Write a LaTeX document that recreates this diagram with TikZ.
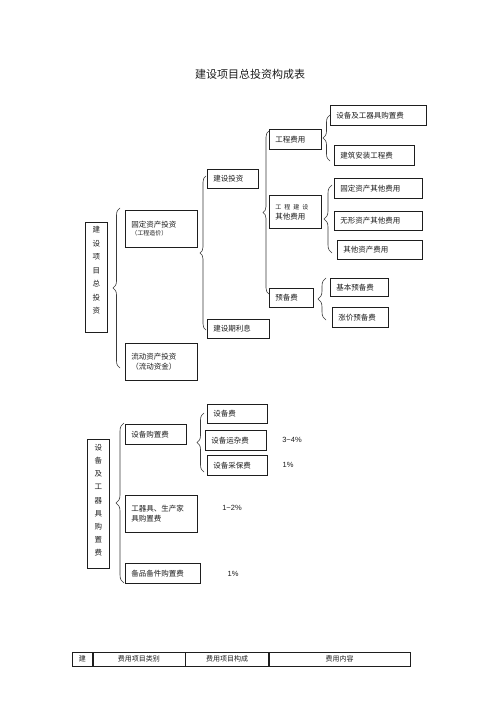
\documentclass[tikz,border=0pt]{standalone}
\usepackage{fontspec}
\setmainfont{Noto Sans CJK SC}
\newfontfamily\latinsans{Liberation Sans}
\usetikzlibrary{calc,positioning,decorations.pathreplacing}
\definecolor{ink}{HTML}{1E1E1E}
\definecolor{rule}{HTML}{3A3A3A}

\begin{document}
\begin{tikzpicture}[x=1pt,y=-1pt,
  box/.style={draw=ink,line width=0.6pt,anchor=north west,align=left,inner xsep=6pt,inner ysep=1pt,text=ink,font=\fontsize{7.5}{10}\selectfont},
  note/.style={font=\fontsize{6}{8}\selectfont},
  vtext/.style={anchor=north,align=center,inner sep=0pt,text=ink,font=\fontsize{7.5}{13.5}\selectfont},
  brace/.style={decorate,decoration={brace,amplitude=7pt},draw=rule,line width=0.6pt},
  pct/.style={text=ink,font=\latinsans\fontsize{7.5}{9}\selectfont},
  cell/.style={draw=ink,line width=0.6pt,anchor=west,minimum height=14,inner sep=0pt,text=ink,font=\fontsize{7}{9}\selectfont}]
  \fill[white] (0,0) rectangle (500,708);
  \useasboundingbox (0,0) rectangle (500,708);
  \node[text=ink,font=\fontsize{11}{13}\selectfont] (title) at (250,74) {建设项目总投资构成表};

  % total investment
  \node[box,minimum width=22,minimum height=110,inner xsep=0pt] (zxm) at (85,222) {};
  \node[vtext] (zxmtext) at ($(zxm.north)+(0,4)$) {建\\设\\项\\目\\总\\投\\资};
  \node[box,text width=60,minimum height=37] (gdzc) at (125,210) {固定资产投资\\[-2pt]{\fontsize{6}{8}\selectfont（工程造价）}};
  \node[box,text width=60,minimum height=37] (ldzc) at (125,343) {流动资产投资\\（流动资金）};
  \node[box,text width=39,minimum height=19] (jstz) at (207,169) {建设投资};
  \node[box,text width=50,minimum height=19] (jsqlx) at (207,319) {建设期利息};
  \node[box,text width=40,minimum height=20] (gcfy) at (269,129) {工程费用};
  \node[box,text width=40,minimum height=33] (gcqt) at (269,195) {{\fontsize{6}{8}\selectfont 工\enspace 程\enspace 建\enspace 设}\\其他费用};
  \node[box,text width=32,minimum height=19] (ybf) at (269,288) {预备费};
  \node[box,text width=84,minimum height=20] (sbgj) at (330,105) {设备及工器具购置费};
  \node[box,text width=68,minimum height=20] (jzaz) at (334,145) {建筑安装工程费};
  \node[box,text width=76,minimum height=20] (gdqt) at (334,178) {固定资产其他费用};
  \node[box,text width=76,minimum height=19] (wxzc) at (334,211) {无形资产其他费用};
  \node[box,text width=73,minimum height=19] (qtzc) at (337,240) {其他资产费用};
  \node[box,text width=46,minimum height=18] (jbyb) at (330,278) {基本预备费};
  \node[box,text width=44,minimum height=20] (zjyb) at (332,307) {涨价预备费};

  \coordinate (b1t) at (120,208); \coordinate (b1b) at (120,368);
  \coordinate (b2t) at (206,176); \coordinate (b2b) at (206,330);
  \coordinate (b3t) at (269,131); \coordinate (b3b) at (269,294);
  \coordinate (b4t) at (330,115); \coordinate (b4b) at (330,161);
  \coordinate (b5t) at (332,185); \coordinate (b5b) at (332,253);
  \coordinate (b6t) at (326,278); \coordinate (b6b) at (326,320);
  \draw[brace] (b1b) -- (b1t);
  \draw[brace,decoration={amplitude=6pt}] (b2b) -- (b2t);
  \draw[brace,decoration={amplitude=6pt}] (b3b) -- (b3t);
  \draw[brace] (b4b) -- (b4t);
  \draw[brace,decoration={amplitude=8pt}] (b5b) -- (b5t);
  \draw[brace,decoration={amplitude=8pt}] (b6b) -- (b6t);

  % equipment purchase
  \node[box,minimum width=22,minimum height=129,inner xsep=0pt] (sbz) at (87,439) {};
  \node[vtext,font=\fontsize{7.5}{13.2}\selectfont] (sbztext) at ($(sbz.north)+(0,5)$) {设\\备\\及\\工\\器\\具\\购\\置\\费};
  \node[box,text width=49,minimum height=20] (sbgz) at (125,424) {设备购置费};
  \node[box,text width=60,minimum height=37] (gqj) at (125,495) {工器具、生产家\\具购置费};
  \node[box,text width=63,minimum height=20] (bpbj) at (125,563) {备品备件购置费};
  \node[box,text width=48,minimum height=19] (sbf) at (207,404) {设备费};
  \node[box,text width=49,minimum height=20] (sbyz) at (205,430) {设备运杂费};
  \node[box,text width=48,minimum height=20] (sbcb) at (207,455) {设备采保费};
  \node[pct] (pyz) at (292,440) {3\textasciitilde4\%};
  \node[pct] (pcb) at (288,465) {1\%};
  \node[pct] (pgqj) at (232,508) {1\textasciitilde2\%};
  \node[pct] (pbp) at (233,574) {1\%};

  \coordinate (b7t) at (124,423); \coordinate (b7b) at (124,583);
  \coordinate (b8t) at (204,413); \coordinate (b8b) at (204,472);
  \draw[brace,decoration={amplitude=8pt}] (b7b) -- (b7t);
  \draw[brace] (b8b) -- (b8t);

  % table header
  \node[cell,minimum width=20] (th1) at (72,659) {建};
  \node[cell,minimum width=92] (th2) at (th1.east) {费用项目类别};
  \node[cell,minimum width=83] (th3) at (th2.east) {费用项目构成};
  \node[cell,minimum width=141] (th4) at (th3.east) {费用内容};
\end{tikzpicture}
\end{document}
